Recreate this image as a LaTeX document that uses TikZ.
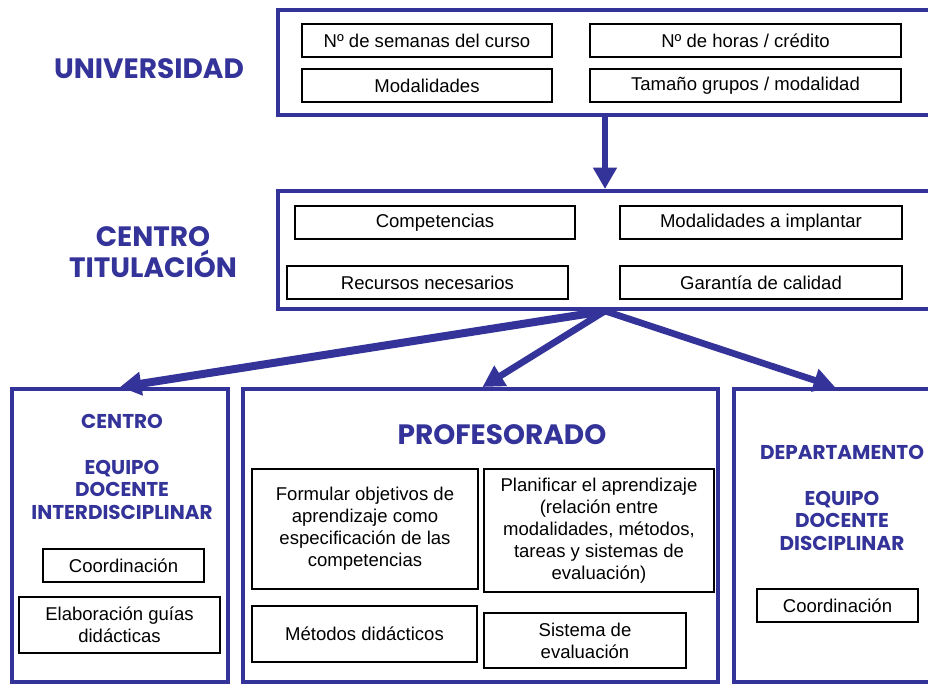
\documentclass[tikz,border=0pt]{standalone}
\usepackage{fontspec}
\setmainfont{Liberation Sans}
\newfontfamily\headfont{Poppins}
\usetikzlibrary{arrows.meta,shadows}
\definecolor{ublue}{RGB}{51,51,153}
\tikzset{
  corners/.style args={#1/#2/#3/#4}{minimum width={(#3-#1)*0.75pt}, minimum height={(#4-#2)*0.75pt},
    at={({(#1+#3)/2},{(#2+#4)/2})}},
  outerbox/.style={draw=ublue, line width=3pt, inner sep=0pt, rectangle},
  ibox/.style={draw=black, line width=0.8pt, fill=white, inner sep=0pt, align=center,
    font=\fontsize{13.9}{16.5}\selectfont,
    drop shadow={shadow xshift=0.9pt, shadow yshift=-0.9pt, fill=black!35, opacity=1}},
  bighead/.style={text=ublue, align=center, font=\headfont\bfseries\fontsize{21}{23.25}\selectfont},
  smallhead/.style={text=ublue, align=center, font=\headfont\bfseries\fontsize{15}{16.9}\selectfont},
  flow/.style={draw=ublue, line width=5pt, -{Triangle[length=16pt,width=17pt]}},
}
\begin{document}
\begin{tikzpicture}[x=0.75pt,y=-0.75pt]
\useasboundingbox (0,0) rectangle (928,684);
\clip (0,0) rectangle (928,684);
\fill[white] (0,0) rectangle (928,684);

% UNIVERSIDAD
\node[outerbox, corners=278/10/932/115] (uni) {};
\node[bighead] (huni) at (149,69) {UNIVERSIDAD};
\node[ibox, corners=302/24/552/57] (u1) {Nº de semanas del curso};
\node[ibox, corners=590/24/901/57] (u2) {Nº de horas / crédito};
\node[ibox, corners=302/69/552/102] (u3) {Modalidades};
\node[ibox, corners=590/69/901/102] (u4) {Tamaño grupos / modalidad};

% CENTRO TITULACION
\node[outerbox, corners=278/191/932/309] (cen) {};
\node[bighead, font=\headfont\bfseries\fontsize{21}{23.25}\selectfont] (hcen) at (153,252) {CENTRO\\TITULACIÓN};
\node[ibox, corners=295/206/575/239] (c1) {Competencias};
\node[ibox, corners=620/206/902/239] (c2) {Modalidades a implantar};
\node[ibox, corners=287/266/568/299] (c3) {Recursos necesarios};
\node[ibox, corners=620/266/902/299] (c4) {Garantía de calidad};

% bottom boxes
\node[outerbox, corners=12/389/228/682] (lb) {};
\node[outerbox, corners=243/389/718/682] (mb) {};
\node[outerbox, corners=734/389/936/682] (rb) {};

% left
\node[smallhead] (hleft) at (122,467) {CENTRO\\[16.9pt]EQUIPO\\DOCENTE\\INTERDISCIPLINAR};
\node[ibox, corners=43/549/204/582] (l1) {Coordinación};
\node[ibox, corners=19/597/220/653] (l2) {Elaboración guías\\didácticas};

% middle
\node[bighead] (hprof) at (502,435) {PROFESORADO};
\node[ibox, corners=252/469/478/589] (m1) {Formular objetivos de\\aprendizaje como\\especificación de las\\competencias};
\node[ibox, corners=484/469/714/592] (m2) {Planificar el aprendizaje\\(relación entre\\modalidades, métodos,\\tareas y sistemas de\\evaluación)};
\node[ibox, corners=252/606/477/662] (m3) {Métodos didácticos};
\node[ibox, corners=484/613/686/668] (m4) {Sistema de\\evaluación};

% right
\node[smallhead] (hright) at (842,498) {DEPARTAMENTO\\[16.9pt]EQUIPO\\DOCENTE\\DISCIPLINAR};
\node[ibox, corners=757/589/918/622] (r1) {Coordinación};

% arrows
\draw[flow, line width=4.5pt] (uni.south) -- (cen.north);
\draw[flow, line width=6pt] (cen.south) -- (lb.north);
\draw[flow] (cen.south) -- ([xshift=1.5pt]mb.north);
\draw[flow] (cen.south) -- (rb.north);
\end{tikzpicture}
\end{document}
